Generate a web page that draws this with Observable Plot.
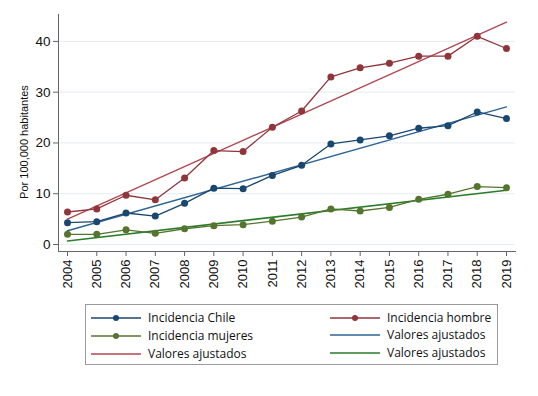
<!DOCTYPE html>
<html>
<head>
<meta charset="utf-8">
<script src="https://cdn.jsdelivr.net/npm/d3@7"></script>
<script src="https://cdn.jsdelivr.net/npm/@observablehq/plot@0.6"></script>
<style>
  html, body { margin: 0; padding: 0; background: #fff; }
  #wrap { position: relative; width: 538px; height: 396px; font-family: "Liberation Sans", Arial, sans-serif; }
  #ylab { position: absolute; left: 24px; top: 142px; transform: translate(-50%, -50%) rotate(-90deg); font-size: 11px; color: #111; white-space: nowrap; }
  #legend { position: absolute; left: 85px; top: 304px; width: 413px; height: 61px; border: 1px solid #9a9a9a; box-sizing: border-box; }
  .item { position: absolute; display: flex; align-items: center; font-family: "Open Sans", sans-serif; font-size: 12px; color: #111; white-space: nowrap; }
  .item svg { margin-right: 7px; }
</style>
</head>
<body>
<div id="wrap">
  <div id="chart"></div>
  <div id="ylab">Por 100,000 habitantes</div>
  <div id="legend"></div>
</div>
<script>
const years = [2004, 2005, 2006, 2007, 2008, 2009, 2010, 2011, 2012, 2013, 2014, 2015, 2016, 2017, 2018, 2019];
const chile   = [4.3, 4.5, 6.2, 5.6, 8.1, 11.1, 11.0, 13.6, 15.6, 19.8, 20.6, 21.4, 22.9, 23.4, 26.1, 24.8];
const hombre  = [6.4, 7.0, 9.7, 8.8, 13.1, 18.5, 18.3, 23.1, 26.3, 33.0, 34.8, 35.7, 37.1, 37.1, 41.0, 38.6];
const mujeres = [2.0, 2.0, 2.9, 2.2, 3.1, 3.7, 3.9, 4.6, 5.4, 7.0, 6.6, 7.3, 8.9, 9.9, 11.4, 11.2];
const fitYears = [2004, 2019];
const fitChile = [2.7, 27.1];
const fitHombre = [5.0, 43.8];
const fitMujeres = [0.7, 10.7];
const yTicks = [0, 10, 20, 30, 40];

const colChile = "#1a476f", colHombre = "#90353b", colMujeres = "#55752f";
const colFitChile = "#2e6596", colFitHombre = "#b04850", colFitMujeres = "#2a7d2a";

const rows = (vals) => years.map((y, i) => ({year: y, v: vals[i]}));
const frows = (vals) => fitYears.map((y, i) => ({year: y, v: vals[i]}));

const chart = Plot.plot({
  width: 538,
  height: 300,
  marginLeft: 58,
  marginRight: 23,
  marginTop: 14,
  marginBottom: 49,
  insetLeft: 9,
  insetRight: 9,
  insetBottom: 7,
  style: {fontFamily: "Liberation Sans, Arial, sans-serif", color: "#111", background: "transparent"},
  x: {domain: [2004, 2019]},
  y: {domain: [0, 45.3], nice: false},
  marks: [
    Plot.ruleY(yTicks, {stroke: "#e4edf0", strokeWidth: 1}),
    Plot.frame({anchor: "left", stroke: "#666"}),
    Plot.frame({anchor: "bottom", stroke: "#666"}),
    Plot.axisY({ticks: yTicks, tickSize: 5, tickPadding: 3, fontSize: 13.5, label: null, stroke: "#666"}),
    Plot.axisX({ticks: years, tickFormat: d => String(d), tickRotate: -90, tickSize: 5, tickPadding: 3, fontSize: 13, label: null, stroke: "#666"}),
    Plot.line(frows(fitMujeres), {x: "year", y: "v", stroke: colFitMujeres, strokeWidth: 1.6}),
    Plot.line(frows(fitChile), {x: "year", y: "v", stroke: colFitChile, strokeWidth: 1.4}),
    Plot.line(frows(fitHombre), {x: "year", y: "v", stroke: colFitHombre, strokeWidth: 1.4}),
    Plot.line(rows(mujeres), {x: "year", y: "v", stroke: colMujeres, strokeWidth: 1.3}),
    Plot.dot(rows(mujeres), {x: "year", y: "v", fill: colMujeres, r: 3.5}),
    Plot.line(rows(chile), {x: "year", y: "v", stroke: colChile, strokeWidth: 1.3}),
    Plot.dot(rows(chile), {x: "year", y: "v", fill: colChile, r: 3.5}),
    Plot.line(rows(hombre), {x: "year", y: "v", stroke: colHombre, strokeWidth: 1.3}),
    Plot.dot(rows(hombre), {x: "year", y: "v", fill: colHombre, r: 3.5})
  ]
});
document.getElementById("chart").appendChild(chart);

const legendItems = [
  {label: "Incidencia Chile", color: colChile, dot: true, left: 5, top: 13},
  {label: "Incidencia hombre", color: colHombre, dot: true, left: 244, top: 13},
  {label: "Incidencia mujeres", color: colMujeres, dot: true, left: 5, top: 31},
  {label: "Valores ajustados", color: colFitChile, dot: false, left: 244, top: 30},
  {label: "Valores ajustados", color: colFitHombre, dot: false, left: 5, top: 49},
  {label: "Valores ajustados", color: colFitMujeres, dot: false, left: 244, top: 48}
];
const leg = document.getElementById("legend");
for (const it of legendItems) {
  const d = document.createElement("div");
  d.className = "item";
  d.style.left = it.left + "px";
  d.style.top = (it.top - 9) + "px";
  d.innerHTML = `<svg width="50" height="10"><line x1="0" y1="5" x2="50" y2="5" stroke="${it.color}" stroke-width="1.5"/>${it.dot ? `<circle cx="25" cy="5" r="3" fill="${it.color}"/>` : ""}</svg><span>${it.label}</span>`;
  leg.appendChild(d);
}
</script>
</body>
</html>
